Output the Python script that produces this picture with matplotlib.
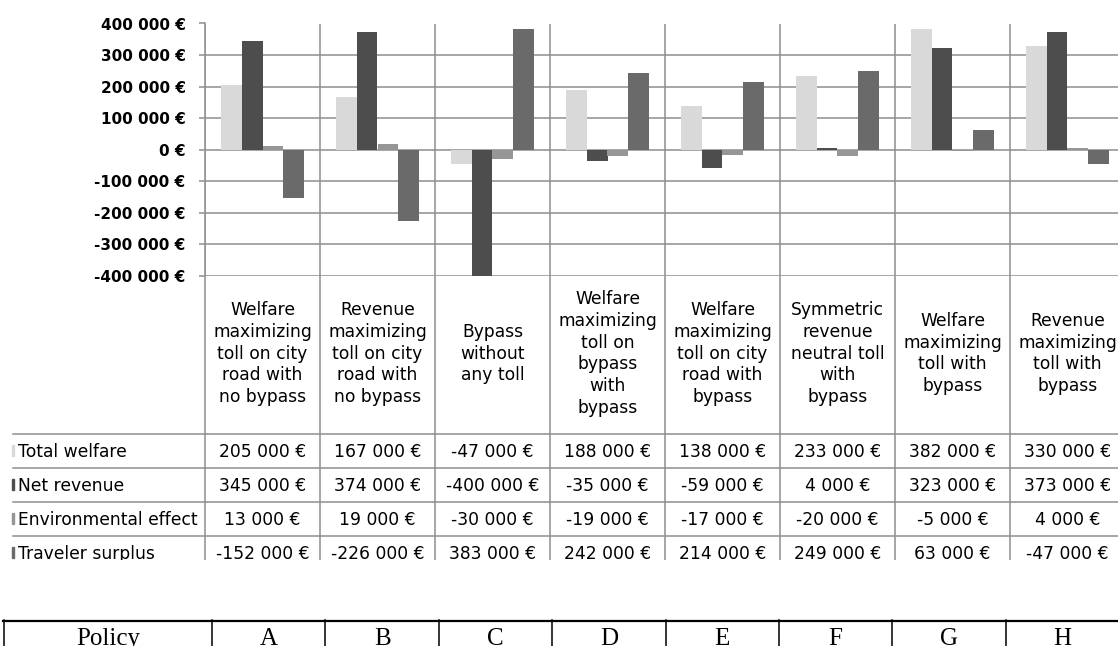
import matplotlib
matplotlib.use("Agg")
import matplotlib.pyplot as plt
from matplotlib.transforms import blended_transform_factory
from matplotlib.patches import Rectangle
import numpy as np

W, H = 1118, 646

categories = [
    "Welfare\nmaximizing\ntoll on city\nroad with\nno bypass",
    "Revenue\nmaximizing\ntoll on city\nroad with\nno bypass",
    "Bypass\nwithout\nany toll",
    "Welfare\nmaximizing\ntoll on\nbypass\nwith\nbypass",
    "Welfare\nmaximizing\ntoll on city\nroad with\nbypass",
    "Symmetric\nrevenue\nneutral toll\nwith\nbypass",
    "Welfare\nmaximizing\ntoll with\nbypass",
    "Revenue\nmaximizing\ntoll with\nbypass",
]
policy_header = "Policy"
policy_letters = ["A", "B", "C", "D", "E", "F", "G", "H"]

series_names = ["Total welfare", "Net revenue", "Environmental effect", "Traveler surplus"]
total_welfare = [205000, 167000, -47000, 188000, 138000, 233000, 382000, 330000]
net_revenue = [345000, 374000, -400000, -35000, -59000, 4000, 323000, 373000]
environmental_effect = [13000, 19000, -30000, -19000, -17000, -20000, -5000, 4000]
traveler_surplus = [-152000, -226000, 383000, 242000, 214000, 249000, 63000, -47000]
y_ticks = [-400000, -300000, -200000, -100000, 0, 100000, 200000, 300000, 400000]

series_values = [total_welfare, net_revenue, environmental_effect, traveler_surplus]
series_colors = ["#d9d9d9", "#4d4d4d", "#969696", "#6a6a6a"]
grid_color = "#8e8e8e"
FONT = "DejaVu Sans"


def eur(v):
    return f"{v:,}".replace(",", " ") + " €"


fig = plt.figure(figsize=(W / 100, H / 100), dpi=100)
fig.patch.set_facecolor("white")


def px_axes(x0, y0, x1, y1):
    return fig.add_axes([x0 / W, 1 - y1 / H, (x1 - x0) / W, (y1 - y0) / H])


# ---------------- bar chart ----------------
PLOT_TOP, PLOT_BOT = 23.5, 275.7
ax = px_axes(205, PLOT_TOP, 1125, PLOT_BOT)
n = len(categories)
x = np.arange(n)
bw = 0.18
for k, (vals, col) in enumerate(zip(series_values, series_colors)):
    ax.bar(x + (k - 1.5) * bw, vals, bw, color=col, linewidth=0, zorder=3)
ax.set_xlim(-0.5, n - 0.5)
ax.set_ylim(y_ticks[0], y_ticks[-1])
ax.set_yticks(y_ticks)
ax.set_yticklabels([eur(v) for v in y_ticks], fontweight="bold", fontsize=11, family=FONT)
ax.set_xticks(x)
ax.set_xticklabels([])
ax.set_xticks(np.arange(n + 1) - 0.5, minor=True)
ax.tick_params(axis="x", which="both", length=0)
ax.tick_params(axis="y", length=4.5, width=1.1, color=grid_color, pad=9.5)
ax.grid(axis="y", color=grid_color, lw=1.1, zorder=0)
ax.grid(axis="x", which="minor", color=grid_color, lw=1.1, zorder=0)
ax.grid(axis="x", which="major", visible=False)
for s in ["top", "right", "bottom"]:
    ax.spines[s].set_visible(False)
ax.spines["left"].set_color(grid_color)
ax.spines["left"].set_linewidth(1.1)
ax.set_facecolor("none")

# ---------------- data table ----------------
TAB_BOT = 559.5
tab = px_axes(0, PLOT_BOT, W, TAB_BOT)
tab.set_xlim(0, W)
tab.set_ylim(TAB_BOT, PLOT_BOT)
tab.axis("off")
bt = blended_transform_factory(ax.transData, tab.transData)

header_bottom = 433.5
row_h = 34.0
row_edges = [header_bottom + row_h * i for i in range(len(series_names) + 1)]

for b in np.arange(n + 1) - 0.5:
    tab.plot([b, b], [PLOT_BOT, TAB_BOT], transform=bt, color=grid_color, lw=1.1, clip_on=True)
for yv in row_edges:
    tab.plot([13, W], [yv, yv], color=grid_color, lw=1.1, clip_on=True)

for i, lab in enumerate(categories):
    tab.text(i, (PLOT_BOT + header_bottom) / 2 - 1, lab, transform=bt, ha="center", va="center",
             multialignment="center", linespacing=1.27, fontsize=12.3, family=FONT, clip_on=True)

for r, (name, vals, col) in enumerate(zip(series_names, series_values, series_colors)):
    yc = (row_edges[r] + row_edges[r + 1]) / 2
    tab.add_patch(Rectangle((11.5, yc - 6), 2.2, 11, color=col, clip_on=True))
    tab.text(18, yc + 6.3, name, ha="left", va="baseline", fontsize=12.3, family=FONT, clip_on=True)
    for i, v in enumerate(vals):
        tab.text(i, yc + 6.3, eur(v), transform=bt, ha="center", va="baseline",
                 fontsize=12.3, family=FONT, clip_on=True)

# ---------------- policy table ----------------
POL_TOP = 619
pol = px_axes(0, POL_TOP, W, H)
pol.set_xlim(0, W)
pol.set_ylim(H, POL_TOP)
pol.axis("off")
first_w, col_w, x_start = 208, 113.4, 4
edges = [x_start, x_start + first_w] + [x_start + first_w + col_w * k for k in range(1, len(policy_letters) + 1)]
pol.plot([x_start - 1, W], [POL_TOP + 1.5, POL_TOP + 1.5], color="black", lw=1.6, clip_on=True)
for e in edges:
    pol.plot([e, e], [POL_TOP + 1, H], color="black", lw=1.1, clip_on=True)
labels = [policy_header] + policy_letters
for j, lab in enumerate(labels):
    cx = (edges[j] + edges[j + 1]) / 2
    pol.text(cx, 645, lab, ha="center", va="baseline", fontsize=18,
             family="Liberation Serif", clip_on=True)

fig.savefig("out.png", dpi=100, facecolor="white")
